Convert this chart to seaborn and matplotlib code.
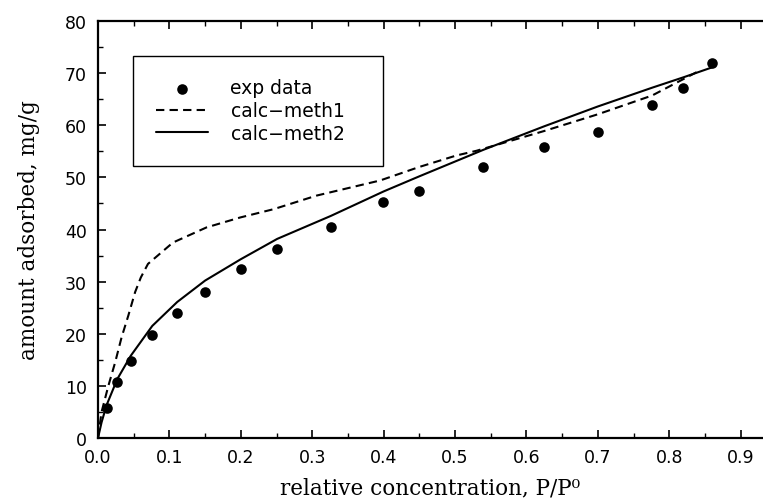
import numpy as np
import pandas as pd
import matplotlib
matplotlib.use('Agg')
import matplotlib.pyplot as plt
import seaborn as sns
from matplotlib.ticker import MultipleLocator

# ========== 数据 ==========
exp_x = [0.012, 0.027, 0.046, 0.076, 0.111, 0.150, 0.200, 0.251, 0.326,
         0.399, 0.450, 0.539, 0.625, 0.700, 0.776, 0.820, 0.860]
exp_y = [5.7, 10.8, 14.8, 19.7, 24.0, 28.0, 32.4, 36.2, 40.5,
         45.2, 47.3, 51.9, 55.9, 58.8, 63.9, 67.2, 72.0]

meth1_x = [0.0, 0.005, 0.0145, 0.024, 0.033, 0.0425, 0.052, 0.060, 0.070,
           0.105, 0.152, 0.199, 0.246, 0.306, 0.395, 0.450, 0.502, 0.530,
           0.625, 0.700, 0.776, 0.840]
meth1_y = [0.0, 5.0, 10.0, 14.5, 19.3, 23.5, 28.0, 30.8, 33.4,
           37.5, 40.4, 42.3, 43.9, 46.5, 49.4, 52.0, 54.2, 55.1,
           58.9, 62.1, 65.7, 70.3]

meth2_x = [0.0, 0.005, 0.012, 0.027, 0.046, 0.076, 0.111, 0.150, 0.200,
           0.251, 0.326, 0.400, 0.450, 0.540, 0.625, 0.700, 0.776, 0.820, 0.860]
meth2_y = [0.0, 3.0, 6.3, 11.3, 15.8, 21.5, 26.1, 30.2, 34.3,
           38.2, 42.6, 47.3, 50.2, 55.3, 59.8, 63.6, 67.2, 69.2, 71.1]

x_ticks = [0.0, 0.1, 0.2, 0.3, 0.4, 0.5, 0.6, 0.7, 0.8, 0.9]
y_ticks = [0, 10, 20, 30, 40, 50, 60, 70, 80]

# ========== 样式 ==========
sns.set_style('ticks')
plt.rcParams['font.family'] = ['DejaVu Sans']
plt.rcParams['axes.linewidth'] = 1.6
plt.rcParams['axes.edgecolor'] = 'black'
plt.rcParams['text.color'] = 'black'
plt.rcParams['axes.labelcolor'] = 'black'
plt.rcParams['xtick.color'] = 'black'
plt.rcParams['ytick.color'] = 'black'
plt.rcParams['xtick.direction'] = 'in'
plt.rcParams['ytick.direction'] = 'in'

fig = plt.figure(figsize=(7.63, 5.02), dpi=100)
ax = fig.add_axes([98 / 763, 63 / 502, 1 - 98 / 763, (439 - 22) / 502])

exp_df = pd.DataFrame({'x': exp_x, 'y': exp_y})
m1_df = pd.DataFrame({'x': meth1_x, 'y': meth1_y})
m2_df = pd.DataFrame({'x': meth2_x, 'y': meth2_y})

sns.scatterplot(data=exp_df, x='x', y='y', ax=ax, color='black', s=58,
                edgecolor='black', linewidth=0, label='exp data', zorder=3)
sns.lineplot(data=m1_df, x='x', y='y', ax=ax, color='black', lw=1.5,
             sort=False, label='calc\u2212meth1')
ax.lines[-1].set_dashes([4, 2.5])
sns.lineplot(data=m2_df, x='x', y='y', ax=ax, color='black', lw=1.5,
             sort=False, label='calc\u2212meth2')

ax.set_xlim(0, (763 - 98) / 714)
ax.set_ylim(0, 80)
ax.set_xticks(x_ticks)
ax.set_xticklabels([f'{t:.1f}' for t in x_ticks])
ax.set_yticks(y_ticks)
ax.xaxis.set_minor_locator(MultipleLocator(0.05))
ax.yaxis.set_minor_locator(MultipleLocator(5))
ax.tick_params(which='major', length=6, width=1.2, labelsize=12.5,
               top=True, colors='black')
ax.tick_params(which='minor', length=3.5, width=1.0, top=True, colors='black')
ax.tick_params(axis='x', pad=7)
ax.tick_params(axis='y', pad=8)
ax.spines['right'].set_visible(False)
for sp in ax.spines.values():
    sp.set_color('black')

ax.set_xlabel('relative concentration, P/P\u2070', family='DejaVu Serif',
              fontsize=15.5, color='black')
ax.set_ylabel('amount adsorbed, mg/g', family='DejaVu Serif',
              fontsize=15.5, color='black')
ax.xaxis.set_label_coords(0.5, -(477 - 439) / 417)
ax.yaxis.set_label_coords((40 - 98) / 665, 0.5)

leg_x0 = (133 - 98) / 665
leg_w = (383 - 133) / 665
leg_top = (439 - 57) / 417
leg = ax.legend(loc='upper left', bbox_to_anchor=(leg_x0, leg_top - 0.3, leg_w, 0.3),
                mode='expand', borderaxespad=0, frameon=True, fancybox=False,
                fontsize=13.5, handlelength=2.8, handletextpad=1.2,
                borderpad=1.2, labelspacing=0.2, labelcolor='black')
leg.get_frame().set_edgecolor('black')
leg.get_frame().set_linewidth(1.0)
leg.get_frame().set_alpha(1)

fig.savefig('out.png', dpi=100)
